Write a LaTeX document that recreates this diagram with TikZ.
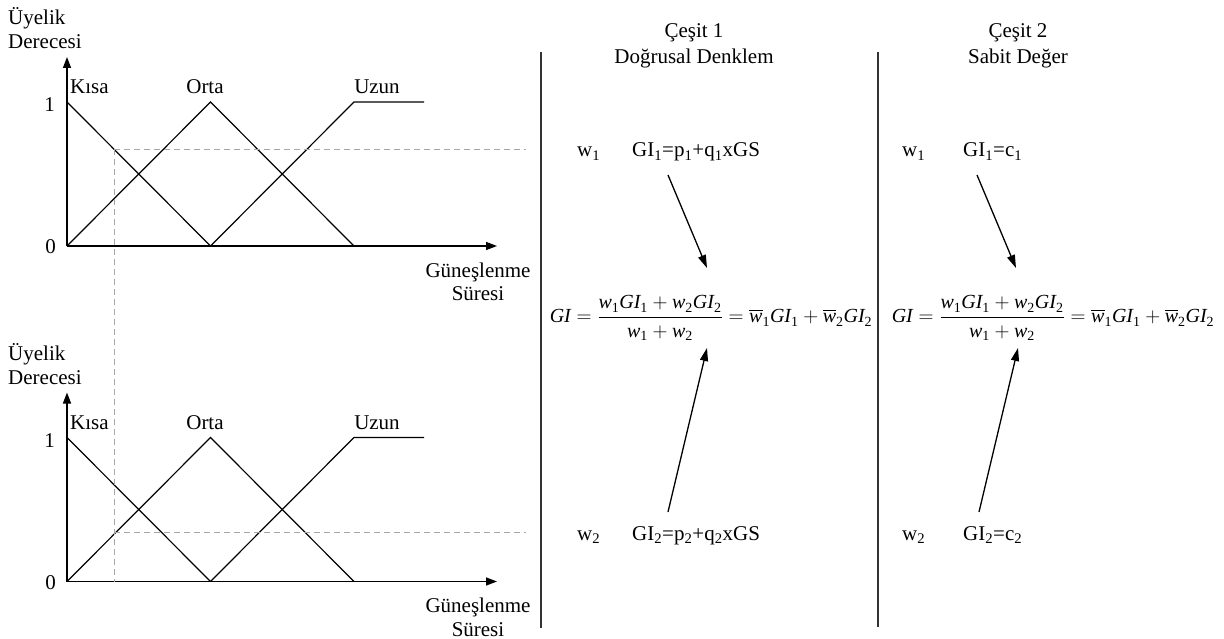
\documentclass[tikz,border=0pt]{standalone}
\usepackage{fontspec}
\setmainfont{Liberation Serif}
\usepackage{amsmath}
\usetikzlibrary{arrows.meta}

% italic symbol in formulas, upright subscript digits
\newcommand{\vv}[1]{\textit{#1}}
\newcommand{\sbx}[1]{_{\text{#1}}}

\begin{document}
\begin{tikzpicture}[x=1pt,y=-1pt,
  txt/.style={font=\fontsize{21}{25}\selectfont, inner sep=0pt},
  eqn/.style={font=\fontsize{20}{24}\selectfont, inner sep=0pt},
  axis/.style={line width=1.4pt, -{Triangle[length=11pt,width=8pt]}},
  mf/.style={line width=1.2pt},
  guide/.style={draw=black!35, line width=0.9pt, dash pattern=on 6pt off 4pt},
  sep/.style={draw=black!80, line width=2pt},
  flow/.style={line width=1.3pt, -{Triangle[length=13pt,width=8pt]}}]
\useasboundingbox (0,0) rectangle (1224,639);

% ---- two membership-function plots ----
\foreach \g/\dy in {t/0,b/335.5}{
  \begin{scope}[shift={(0,\dy)}]
    \coordinate (o\g) at (67,246);
    \coordinate (ytip\g) at (67,57);
    \coordinate (xtip\g) at (497,246);
    \draw[axis] (o\g) -- (ytip\g);
    \draw[axis] (o\g) -- (xtip\g);
    % Kisa, Orta, Uzun
    \draw[mf] (67,102) -- (210.5,246);
    \draw[mf] (67,246) -- (210.5,102) -- (354,246);
    \draw[mf] (210.5,246) -- (354,102) -- (424,102);
    % labels
    \node[txt, anchor=base west] (uy\g) at (8,25) {Üyelik};
    \node[txt, anchor=base west] (de\g) at (8,49) {Derecesi};
    \node[txt, anchor=base west] (ki\g) at (70,94) {Kısa};
    \node[txt, anchor=base] (or\g) at (205,94) {Orta};
    \node[txt, anchor=base] (uz\g) at (377,94) {Uzun};
    \node[txt, anchor=base east] (one\g) at (55,112) {1};
    \node[txt, anchor=base east] (zero\g) at (56,253.5) {0};
    \node[txt, anchor=base] (gu\g) at (478,277) {Güneşlenme};
    \node[txt, anchor=base] (su\g) at (478,301) {Süresi};
  \end{scope}
}

% ---- reading guides ----
\draw[guide] (114,149) -- (526,149);
\draw[guide] (114,149) -- (114,581.7);
\draw[guide] (114,532) -- (526,532);

% ---- column separators ----
\draw[sep] (541,52) -- (541,628);
\draw[sep] (878,52) -- (878,627);

% ---- column 1: linear equation ----
\node[txt] (h1a) at (694,33) {Çeşit 1};
\node[txt] (h1b) at (694,58) {Doğrusal Denklem};
\node[txt, anchor=base west] (w11) at (577,157) {w\textsubscript{1}};
\node[txt, anchor=base west] (g11) at (632,157) {GI\textsubscript{1}=p\textsubscript{1}+q\textsubscript{1}xGS};
\node[txt, anchor=base west] (w12) at (577,540) {w\textsubscript{2}};
\node[txt, anchor=base west] (g12) at (632,540) {GI\textsubscript{2}=p\textsubscript{2}+q\textsubscript{2}xGS};
\node[eqn] (eq1) at (711,318) {$\vv{GI} = \dfrac{\vv{w}\sbx{1}\vv{GI}\sbx{1} + \vv{w}\sbx{2}\vv{GI}\sbx{2}}{\vv{w}\sbx{1} + \vv{w}\sbx{2}} = \overline{\vv{w}}\sbx{1}\vv{GI}\sbx{1} + \overline{\vv{w}}\sbx{2}\vv{GI}\sbx{2}$};
\coordinate (a1s) at (668,175);
\coordinate (a1e) at (707,268);
\coordinate (b1s) at (668,512);
\coordinate (b1e) at (707,348);
\draw[flow] (a1s) -- (a1e);
\draw[flow] (b1s) -- (b1e);

% ---- column 2: constant value ----
\node[txt] (h2a) at (1018,33) {Çeşit 2};
\node[txt] (h2b) at (1018,58) {Sabit Değer};
\node[txt, anchor=base west] (w21) at (902,157) {w\textsubscript{1}};
\node[txt, anchor=base west] (g21) at (963,157) {GI\textsubscript{1}=c\textsubscript{1}};
\node[txt, anchor=base west] (w22) at (902,540) {w\textsubscript{2}};
\node[txt, anchor=base west] (g22) at (963,540) {GI\textsubscript{2}=c\textsubscript{2}};
\node[eqn] (eq2) at (1053,318) {$\vv{GI} = \dfrac{\vv{w}\sbx{1}\vv{GI}\sbx{1} + \vv{w}\sbx{2}\vv{GI}\sbx{2}}{\vv{w}\sbx{1} + \vv{w}\sbx{2}} = \overline{\vv{w}}\sbx{1}\vv{GI}\sbx{1} + \overline{\vv{w}}\sbx{2}\vv{GI}\sbx{2}$};
\coordinate (a2s) at (977,175);
\coordinate (a2e) at (1016,268);
\coordinate (b2s) at (979,512);
\coordinate (b2e) at (1018,348);
\draw[flow] (a2s) -- (a2e);
\draw[flow] (b2s) -- (b2e);
\end{tikzpicture}
\end{document}
